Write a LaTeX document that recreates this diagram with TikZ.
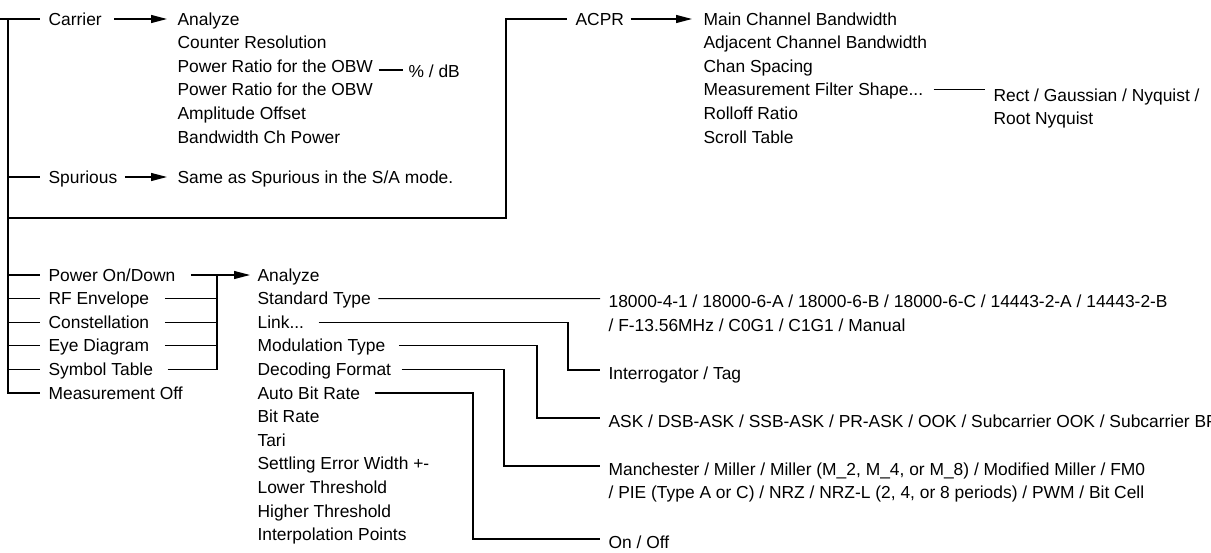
\documentclass[tikz,border=0pt]{standalone}
\usepackage{fontspec}
\setmainfont{Liberation Sans}
\usetikzlibrary{arrows.meta}
\begin{document}
\begin{tikzpicture}[x=1pt,y=-1pt,line width=1.2pt,
  lbl/.style={anchor=base west,inner sep=0pt,font=\fontsize{17.4}{23.6}\selectfont,align=left},
  arr/.style={-{Triangle[length=16pt,width=8pt]}}]
\useasboundingbox (0,0) rectangle (1211,552);
% ---------- top left: Carrier / Spurious ----------
\node[lbl] (carrier) at (48,25) {Carrier};
\node[lbl] (spur) at (48,183) {Spurious};
\node[lbl] (c1) at (177,25) {Analyze};
\node[lbl] (c2) at (177,48.6) {Counter Resolution};
\node[lbl] (c3) at (177,72.2) {Power Ratio for the OBW};
\node[lbl] (c4) at (177,95.8) {Power Ratio for the OBW};
\node[lbl] (c5) at (177,119.4) {Amplitude Offset};
\node[lbl] (c6) at (177,143) {Bandwidth Ch Power};
\node[lbl] (pct) at (408,77) {\% / dB};
\node[lbl] (same) at (177,183) {Same as Spurious in the S/A mode.};
% ---------- ACPR ----------
\node[lbl] (acpr) at (575,25) {ACPR};
\node[lbl] (a1) at (703,25) {Main Channel Bandwidth};
\node[lbl] (a2) at (703,48.6) {Adjacent Channel Bandwidth};
\node[lbl] (a3) at (703,72.2) {Chan Spacing};
\node[lbl] (a4) at (703,95.8) {Measurement Filter Shape...};
\node[lbl] (a5) at (703,119.4) {Rolloff Ratio};
\node[lbl] (a6) at (703,143) {Scroll Table};
% base anchor of a two-line node = baseline of its last line
\node[lbl] (rect) at (993,124.6) {Rect / Gaussian / Nyquist /\\Root Nyquist};
% ---------- bottom left ----------
\node[lbl] (pon) at (48,281) {Power On/Down};
\node[lbl] (rfe) at (48,304.6) {RF Envelope};
\node[lbl] (con) at (48,328.2) {Constellation};
\node[lbl] (eye) at (48,351.8) {Eye Diagram};
\node[lbl] (sym) at (48,375.4) {Symbol Table};
\node[lbl] (moff) at (48,399) {Measurement Off};
% ---------- bottom middle ----------
\node[lbl] (b1) at (257,281) {Analyze};
\node[lbl] (b2) at (257,304.6) {Standard Type};
\node[lbl] (b3) at (257,328.2) {Link...};
\node[lbl] (b4) at (257,351.8) {Modulation Type};
\node[lbl] (b5) at (257,375.4) {Decoding Format};
\node[lbl] (b6) at (257,399) {Auto Bit Rate};
\node[lbl] (b7) at (257,422.6) {Bit Rate};
\node[lbl] (b8) at (257,446.2) {Tari};
\node[lbl] (b9) at (257,469.8) {Settling Error Width +-};
\node[lbl] (b10) at (257,493.4) {Lower Threshold};
\node[lbl] (b11) at (257,517) {Higher Threshold};
\node[lbl] (b12) at (257,540.6) {Interpolation Points};
% ---------- bottom right ----------
\node[lbl] (std) at (608,331.2) {18000-4-1 / 18000-6-A / 18000-6-B / 18000-6-C / 14443-2-A / 14443-2-B\\/ F-13.56MHz / C0G1 / C1G1 / Manual};
\node[lbl] (itag) at (608,379) {Interrogator / Tag};
\node[lbl] (ask) at (608,427) {ASK / DSB-ASK / SSB-ASK / PR-ASK / OOK / Subcarrier OOK / Subcarrier BPSK};
\node[lbl] (man) at (608,498.6) {Manchester / Miller / Miller (M\_2, M\_4, or M\_8) / Modified Miller / FM0\\/ PIE (Type A or C) / NRZ / NRZ-L (2, 4, or 8 periods) / PWM / Bit Cell};
\node[lbl] (onoff) at (608,548) {On / Off};
% ---------- connectors ----------
\coordinate (root) at (0,19);
\coordinate (trunk) at (8,19);
\coordinate (acprV) at (506,218);
\coordinate (mergeV) at (217,275);
\draw (root) -- ([xshift=-8pt,yshift=6pt]carrier.base west);
\draw (trunk) |- ([xshift=-8pt,yshift=6pt]moff.base west);
\draw (trunk |- spur.base) ++(0,-6) -- ([xshift=-8pt,yshift=6pt]spur.base west);
\draw (trunk |- acprV) -- (acprV) |- ([xshift=-8pt,yshift=6pt]acpr.base west);
\draw[arr] ([xshift=12pt,yshift=6pt]carrier.base east) -- ([xshift=-10pt,yshift=6pt]c1.base west);
\draw[arr] ([xshift=7pt,yshift=6pt]spur.base east) -- ([xshift=-10pt,yshift=6pt]same.base west);
\draw[arr] ([xshift=6pt,yshift=6pt]acpr.base east) -- ([xshift=-11pt,yshift=6pt]a1.base west);
\draw ([xshift=5pt,yshift=7pt]c3.base east |- pct.base) -- ([xshift=-5pt,yshift=7pt]pct.base west);
\draw ([xshift=10pt,yshift=6pt]a4.base east) -- ([xshift=-8pt,yshift=34.8pt]rect.base west);
% bottom left stubs
\foreach \n in {pon,rfe,con,eye,sym}
  \draw (trunk |- \n.base) ++(0,-6) -- ([xshift=-8pt,yshift=6pt]\n.base west);
\draw[arr] ([xshift=15pt,yshift=6pt]pon.base east) -- ([xshift=-7pt,yshift=6pt]b1.base west);
\foreach \n in {rfe,con,eye}
  \draw ([xshift=15pt,yshift=6pt]\n.base east) -- ([yshift=6pt]mergeV |- \n.base);
\draw ([xshift=14pt,yshift=6pt]sym.base east) -| (mergeV);
% bottom right connectors
\draw ([xshift=7pt,yshift=6pt]b2.base east) -- ([xshift=-8pt,yshift=32.6pt]std.base west);
\draw ([xshift=14pt,yshift=6pt]b3.base east) -- ([yshift=6pt]568,0 |- b3.base) |- ([xshift=-8pt,yshift=9pt]itag.base west);
\draw ([xshift=13pt,yshift=6pt]b4.base east) -- ([yshift=6pt]537,0 |- b4.base) |- ([xshift=-8pt,yshift=9pt]ask.base west);
\draw ([xshift=10pt,yshift=6pt]b5.base east) -- ([yshift=6pt]504,0 |- b5.base) |- ([xshift=-8pt,yshift=32.6pt]man.base west);
\draw ([xshift=14pt,yshift=6pt]b6.base east) -- ([yshift=6pt]473,0 |- b6.base) |- ([xshift=-8pt,yshift=9pt]onoff.base west);
\end{tikzpicture}
\end{document}
